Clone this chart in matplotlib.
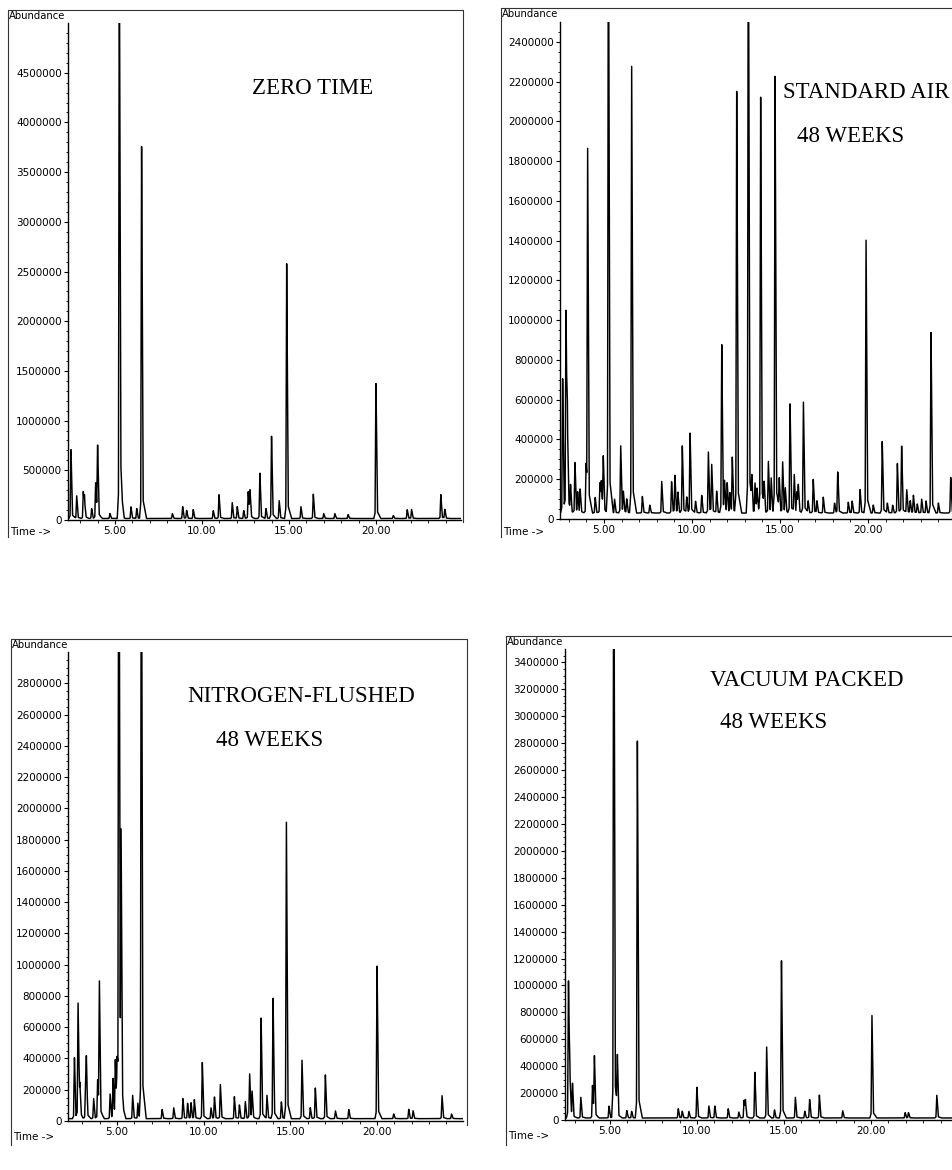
import numpy as np
import matplotlib
matplotlib.use("Agg")
import matplotlib.pyplot as plt
from matplotlib.ticker import (MultipleLocator, FixedLocator, AutoMinorLocator,
                               FuncFormatter, FormatStrFormatter)

# ---------------------------------------------------------------------------
# Peak tables (retention time min, abundance)
# ---------------------------------------------------------------------------

zero_time = [2.47, 2.80, 3.18, 3.25, 3.66, 3.89, 4.00, 4.71, 5.25, 5.33,
             5.92, 6.25, 6.53, 8.30, 8.89, 9.12, 9.50, 10.65, 10.98, 11.74,
             12.03, 12.40, 12.66, 12.76, 13.33, 13.68, 14.00, 14.44, 14.87, 15.69,
             16.40, 17.00, 17.64, 18.40, 20.00, 21.00, 21.80, 22.05, 23.73, 23.96]
zero_abund = [700000, 230000, 270000, 170000, 100000, 360000, 740000, 50000, 6000000, 270000,
              120000, 100000, 3830000, 50000, 120000, 80000, 90000, 80000, 240000, 160000,
              120000, 80000, 270000, 280000, 460000, 100000, 830000, 180000, 2580000, 120000,
              250000, 50000, 50000, 40000, 1390000, 30000, 90000, 90000, 240000, 90000]

air_time = [2.65, 2.84, 2.92, 3.35, 3.64, 3.98, 4.07, 4.77, 4.96, 5.25,
            5.95, 6.29, 6.57, 7.18, 8.28, 8.84, 9.03, 9.45, 9.89, 10.55,
            10.93, 11.12, 11.69, 12.00, 12.29, 12.54, 13.20, 13.58, 13.90, 14.34,
            14.72, 14.96, 15.15, 15.57, 15.81, 16.04, 16.33, 16.89, 17.46, 18.28,
            18.88, 19.55, 19.89, 20.81, 21.67, 21.91, 22.20, 22.58, 23.05, 23.58,
            24.70]
air_abund = [690000, 1020000, 410000, 260000, 120000, 220000, 1840000, 150000, 280000, 3300000,
             340000, 70000, 2300000, 85000, 160000, 160000, 190000, 340000, 410000, 90000,
             310000, 240000, 850000, 150000, 280000, 2160000, 3300000, 150000, 2120000, 260000,
             2200000, 160000, 260000, 560000, 190000, 140000, 570000, 170000, 80000, 210000,
             55000, 120000, 1380000, 360000, 250000, 340000, 120000, 90000, 70000, 920000,
             180000]
# small bumps riding on the noisy baseline of the air sample
air_minor_time = [3.10, 3.50, 4.50, 4.85, 5.60, 6.10, 7.60, 9.20, 9.70, 10.20,
                  11.40, 11.85, 12.15, 13.40, 13.70, 14.10, 14.50, 15.30, 15.95, 16.60,
                  17.10, 18.10, 19.10, 20.30, 21.10, 21.40, 22.40, 22.80, 23.30, 24.00]
air_minor_abund = [130000, 100000, 80000, 140000, 70000, 100000, 40000, 100000, 80000, 60000,
                   110000, 140000, 100000, 130000, 120000, 120000, 170000, 120000, 100000, 60000,
                   60000, 50000, 60000, 40000, 50000, 40000, 60000, 45000, 60000, 50000]

n2_time = [2.54, 2.75, 2.85, 3.18, 3.23, 3.65, 3.88, 3.98, 4.60, 4.77,
           4.90, 5.00, 5.10, 5.23, 5.90, 6.20, 6.40, 7.60, 8.27, 8.80,
           9.07, 9.27, 9.46, 9.92, 10.42, 10.62, 10.96, 11.77, 12.06, 12.40,
           12.65, 12.79, 13.31, 13.65, 14.00, 14.48, 14.77, 15.67, 16.15, 16.44,
           17.02, 17.60, 18.37, 20.00, 20.96, 21.83, 22.08, 23.75, 24.30]
n2_abund = [400000, 740000, 200000, 220000, 300000, 130000, 240000, 890000, 160000, 260000,
            370000, 320000, 5000000, 1700000, 150000, 100000, 4500000, 60000, 70000, 130000,
            100000, 100000, 120000, 360000, 70000, 140000, 220000, 140000, 90000, 110000,
            290000, 170000, 660000, 150000, 770000, 110000, 1920000, 380000, 70000, 200000,
            280000, 50000, 60000, 1000000, 30000, 60000, 50000, 150000, 30000]

vac_time = [2.61, 2.69, 2.84, 3.32, 3.99, 4.10, 4.94, 5.21, 5.42, 5.96,
            6.24, 6.57, 8.92, 9.15, 9.53, 9.99, 10.68, 11.02, 11.79, 12.40,
            12.70, 12.78, 13.32, 14.00, 14.45, 14.85, 15.65, 16.19, 16.47, 17.03,
            18.37, 20.05, 21.96, 22.15, 23.78]
vac_abund = [1020000, 280000, 240000, 155000, 240000, 460000, 90000, 5000000, 390000, 55000,
             50000, 2820000, 70000, 50000, 50000, 230000, 90000, 90000, 70000, 45000,
             130000, 120000, 340000, 530000, 60000, 1190000, 155000, 50000, 140000, 170000,
             55000, 780000, 40000, 40000, 170000]

titles = ["ZERO TIME", "STANDARD AIR", "NITROGEN-FLUSHED", "VACUUM PACKED"]
subtitle = "48 WEEKS"

# ---------------------------------------------------------------------------
W, H = 953, 1170
fig = plt.figure(figsize=(W / 100, H / 100), dpi=100)
fig.patch.set_facecolor("white")

# pixel-space canvas for the scanned frames and labels
bg = fig.add_axes([0, 0, 1, 1])
bg.set_xlim(0, W)
bg.set_ylim(H, 0)
bg.axis("off")

SERIF = "Liberation Serif"
SMALL = 7.5


def build_trace(t, times, abund, base):
    """Sum of sharp, slightly tailing peaks on a flat baseline."""
    y = np.full_like(t, base, dtype=float)
    for t0, h in zip(times, abund):
        d = t - t0
        narrow = np.where(d < 0, 1 + d / 0.05, 1 - d / 0.09)
        broad = np.where(d < 0, 1 + d / 0.12, 1 - d / 0.28)
        y += h * (0.93 * np.clip(narrow, 0, None) + 0.07 * np.clip(broad, 0, None))
    return y


def panel(box, xlim, ymax, ystep, yminor, times, abund, base):
    left, top, right, bottom = box
    ax = fig.add_axes([left / W, 1 - bottom / H, (right - left) / W, (bottom - top) / H])
    ax.patch.set_alpha(0)
    t = np.linspace(xlim[0], xlim[1], 6000)
    ax.plot(t, build_trace(t, times, abund, base), color="black", lw=1.05)
    ax.set_xlim(*xlim)
    ax.set_ylim(0, ymax)
    for s in ("top", "right"):
        ax.spines[s].set_visible(False)
    for s in ("left", "bottom"):
        ax.spines[s].set_linewidth(1.0)
    # top of the scale is left unlabelled, as on the printout
    ax.yaxis.set_major_locator(FixedLocator(np.arange(0, ymax, ystep)))
    ax.yaxis.set_minor_locator(FixedLocator(np.arange(0, ymax, ystep / yminor)))
    ax.yaxis.set_major_formatter(FuncFormatter(lambda v, p: f"{int(round(v))}"))
    ax.xaxis.set_major_locator(MultipleLocator(5))
    ax.xaxis.set_minor_locator(MultipleLocator(1))
    ax.xaxis.set_major_formatter(FormatStrFormatter("%.2f"))
    ax.tick_params(which="major", length=3, width=0.8, labelsize=SMALL, pad=1.5)
    ax.tick_params(which="minor", length=1.6, width=0.6)
    ax.tick_params(axis="x", which="minor", length=2.2)
    return ax


# boxes in pixels: left, top, right, bottom
ax1 = panel((68, 23, 461, 520), (2.30, 24.89), 5000000, 500000, 5,
            zero_time, zero_abund, 15000)
ax2 = panel((560, 22, 953, 519), (2.50, 24.83), 2500000, 200000, 4,
            air_time + air_minor_time, air_abund + air_minor_abund, 30000)
ax3 = panel((68, 652, 463, 1121), (2.17, 24.96), 3000000, 200000, 4,
            n2_time, n2_abund, 15000)
ax4 = panel((565, 649, 953, 1120), (2.41, 24.71), 3500000, 200000, 4,
            vac_time, vac_abund, 15000)

# scanned page frames (left, top and right edges)
frame_kw = dict(color="#333333", lw=0.8)
bg.plot([8, 8, 463, 463], [537, 10, 10, 522], **frame_kw)
bg.plot([501, 501, 953], [537, 8, 8], **frame_kw)
bg.plot([11, 11, 467, 467], [1145, 639, 639, 1125], **frame_kw)
bg.plot([506, 506, 953], [1145, 636, 636], **frame_kw)

# "Abundance" and "Time ->" captions of the instrument printout
for x, y in [(9, 16), (502, 14), (12, 645), (507, 642)]:
    bg.text(x, y, "Abundance", fontsize=7.2, ha="left", va="center")
for x, y in [(10, 532), (503, 532), (13, 1137), (508, 1136)]:
    bg.text(x, y, "Time ->", fontsize=SMALL, ha="left", va="center")

# sample labels typed on the figure
big = dict(fontsize=16.5, family=SERIF, ha="center", va="center")
bg.text(313, 88, titles[0], **big)
bg.text(866, 92, titles[1], **big)
bg.text(851, 136, subtitle, **big)
bg.text(301, 697, titles[2], **big)
bg.text(270, 741, subtitle, **big)
bg.text(807, 680, titles[3], **big)
bg.text(774, 723, subtitle, **big)

fig.savefig("out.png", dpi=100)
